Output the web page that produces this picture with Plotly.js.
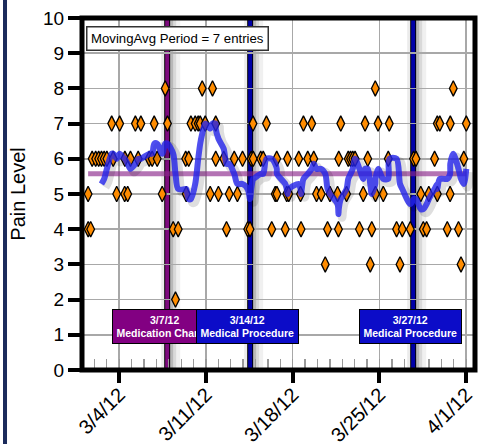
<!DOCTYPE html>
<html><head><meta charset="utf-8">
<script src="https://cdn.plot.ly/plotly-3.0.1.min.js"></script>
<style>html,body{margin:0;padding:0;background:#fff}#chart{width:480px;height:444px}</style>
</head><body><div id="chart"></div>
<script>
// ---- data ----
const entryTimes = [
'2012-03-01 11:50','2012-03-01 12:00','2012-03-01 16:48','2012-03-01 19:42','2012-03-02 02:28','2012-03-02 08:17',
'2012-03-02 13:42','2012-03-02 18:57','2012-03-03 00:10','2012-03-03 09:29','2012-03-03 12:23','2012-03-03 19:09',
'2012-03-04 00:58','2012-03-04 10:39','2012-03-04 11:02','2012-03-04 16:28','2012-03-04 21:53','2012-03-05 07:22',
'2012-03-05 12:48','2012-03-05 18:02','2012-03-06 10:06','2012-03-06 15:55','2012-03-06 19:48','2012-03-07 01:36',
'2012-03-07 11:18','2012-03-07 17:07','2012-03-07 21:33','2012-03-08 08:36','2012-03-08 13:03','2012-03-08 18:17',
'2012-03-09 08:48','2012-03-09 09:47','2012-03-09 14:37','2012-03-09 18:53','2012-03-10 03:13','2012-03-10 09:02',
'2012-03-10 12:53','2012-03-10 16:47','2012-03-10 22:35','2012-03-11 08:16','2012-03-11 12:43','2012-03-11 18:56',
'2012-03-11 19:00','2012-03-12 00:09','2012-03-12 10:25','2012-03-12 15:50','2012-03-12 21:04','2012-03-13 06:46',
'2012-03-13 12:58','2012-03-13 22:51','2012-03-14 08:54','2012-03-14 13:22','2012-03-14 15:42','2012-03-14 19:11',
'2012-03-14 19:34','2012-03-15 10:05','2012-03-15 14:56','2012-03-15 21:07','2012-03-16 07:24','2012-03-16 14:11',
'2012-03-16 17:05','2012-03-16 17:28','2012-03-17 09:33','2012-03-17 12:27','2012-03-17 14:01','2012-03-17 16:20',
'2012-03-18 11:41','2012-03-18 15:11','2012-03-18 16:09','2012-03-18 20:48','2012-03-19 05:08','2012-03-19 12:53',
'2012-03-19 16:45','2012-03-19 22:10','2012-03-20 07:16','2012-03-20 15:01','2012-03-20 19:29','2012-03-21 00:08',
'2012-03-21 14:51','2012-03-21 16:35','2012-03-21 17:11','2012-03-21 21:03','2012-03-22 08:18','2012-03-22 11:35',
'2012-03-22 16:02','2012-03-22 20:18','2012-03-23 00:45','2012-03-23 09:17','2012-03-23 16:38','2012-03-23 20:08',
'2012-03-24 01:21','2012-03-24 06:12','2012-03-24 09:06','2012-03-24 15:53','2012-03-24 16:16','2012-03-24 21:18',
'2012-03-25 07:22','2012-03-25 17:04','2012-03-25 19:00','2012-03-26 09:09','2012-03-26 15:43','2012-03-26 20:11',
'2012-03-27 11:41','2012-03-27 18:04','2012-03-27 22:44','2012-03-28 08:01','2012-03-28 12:52','2012-03-28 19:16',
'2012-03-28 23:31','2012-03-29 10:45','2012-03-29 15:59','2012-03-29 16:05','2012-03-29 20:50','2012-03-30 11:21',
'2012-03-30 16:46','2012-03-30 17:10','2012-03-30 22:57','2012-03-31 09:03','2012-03-31 13:54','2012-03-31 19:19',
'2012-04-01 00:10'];
const painLevels = [
5,4,4,6,6,6, 6,6,6,7,6,5, 7,5,6,5,6,7, 6,7,6,6,7,6, 5,8,7,4,2,4, 6,5,6,7,7,7,
7,8,7,5,8,7, 6,5,6,4,5,6, 5,6,4,4,6,7, 6,6,6,7,4,5, 6,5,4,5,6,5, 6,5,4,7,6,7,
6,5,5,3,4,5, 5,4,6,7,5,6, 6,6,6,4,5,7, 6,3,4,8,5,7, 5,6,7,4,3,4, 4,6,6,5,4,4,
5,6,7,5,7,4, 5,7,8,4,3,6, 7];
const movingAvgPeriod = 7;
const eventDates  = ['2012-03-07 21:00','2012-03-14 13:40','2012-03-27 17:20'];
const eventDays   = ['3/7/12','3/14/12','3/27/12'];
const eventNames  = ['Medication Change','Medical Procedure','Medical Procedure'];
const yTickVals = [0,1,2,3,4,5,6,7,8,9,10];
const xTickVals = ['2012-03-04','2012-03-11','2012-03-18','2012-03-25','2012-04-01'];
const xTickText = ['3/4/12','3/11/12','3/18/12','3/25/12','4/1/12'];

// ---- styles ----
const eventLineColors = ['#7d0a7d','#0000a8','#0000a8'];
const eventBoxColors  = ['#820082','#0c0cc8','#0c0cc8'];
const FONT = '"Liberation Sans", Arial, sans-serif';

function toMs(s){const p=s.split(' ');const d=p[0].split('-').map(Number);const t=(p[1]||'00:00').split(':').map(Number);return Date.UTC(d[0],d[1]-1,d[2],t[0],t[1]);}
function toStr(ms){return new Date(ms).toISOString().slice(0,16).replace('T',' ');}

// moving average over entries (trailing)
const maX=[], maY=[];
for(let i=movingAvgPeriod-1;i<painLevels.length;i++){
  let s=0; for(let k=i-movingAvgPeriod+1;k<=i;k++) s+=painLevels[k];
  maX.push(entryTimes[i]); maY.push(s/movingAvgPeriod);
}
const mean = painLevels.reduce((a,b)=>a+b,0)/painLevels.length;
const shadowX = maX.map(t=>toStr(toMs(t)+7*3600*1000));
const shadowY = maY.map(v=>v-0.09);

const traces = [
  {x:entryTimes, y:painLevels, type:'scatter', mode:'markers',
   marker:{symbol:'diamond-tall', size:11, color:'#ff8c00', line:{color:'#000', width:1.3}}, hoverinfo:'x+y'},
  {x:[entryTimes[0], entryTimes[entryTimes.length-1]], y:[mean, mean], type:'scatter', mode:'lines',
   line:{color:'rgba(140,40,140,0.65)', width:5}},
  {x:shadowX, y:shadowY, type:'scatter', mode:'lines',
   line:{color:'rgba(0,0,0,0.13)', width:9, shape:'spline', smoothing:0.8}, hoverinfo:'skip'},
  {x:maX, y:maY, type:'scatter', mode:'lines',
   line:{color:'rgba(35,35,235,0.8)', width:6, shape:'spline', smoothing:0.8}}
];

const shapes = [];
eventDates.forEach((d,i)=>{
  const base = {type:'rect', xref:'x', yref:'paper', xsizemode:'pixel', xanchor:d, y0:0, y1:1, line:{width:0}, layer:'between'};
  shapes.push(Object.assign({}, base, {x0:-6, x1:-3, fillcolor:'rgba(0,0,0,0.08)'}));
  shapes.push(Object.assign({}, base, {x0:3, x1:6, fillcolor:'rgba(0,0,0,0.28)'}));
  shapes.push(Object.assign({}, base, {x0:6, x1:9, fillcolor:'rgba(0,0,0,0.15)'}));
  shapes.push(Object.assign({}, base, {x0:9, x1:13, fillcolor:'rgba(0,0,0,0.06)'}));
  shapes.push(Object.assign({}, base, {x0:-3, x1:3, fillcolor:'#000'}));
  shapes.push(Object.assign({}, base, {x0:-2, x1:2, fillcolor:eventLineColors[i]}));
});
// plot frame
shapes.push({type:'rect', xref:'paper', yref:'paper', x0:0, x1:1, y0:0, y1:1, line:{color:'#000', width:5}, fillcolor:'rgba(0,0,0,0)', layer:'above'});
// left page stripe
shapes.push({type:'rect', xref:'paper', yref:'paper', x0:-0.2010, x1:-0.1908, y0:-0.3, y1:1.2, line:{width:0}, fillcolor:'#1b2b5b', layer:'above'});

const annotations = [
  {xref:'paper', yref:'paper', x:0.0102, y:0.9773, xanchor:'left', yanchor:'top', showarrow:false, align:'left',
   text:'MovingAvg Period = ' + movingAvgPeriod + ' entries', font:{family:FONT, size:13.2, color:'#000'},
   bgcolor:'#fff', bordercolor:'#333', borderwidth:1.5, borderpad:3.5}
];
eventDates.forEach((d,i)=>{
  annotations.push({xref:'x', yref:'paper', x:d, y:0.1236, xanchor:'center', yanchor:'middle', xshift:-2.5,
    showarrow:false, align:'center', text:'<b>'+eventDays[i]+'<br>'+eventNames[i]+'</b>',
    font:{family:FONT, size:10.5, color:'#fff'}, bgcolor:eventBoxColors[i], bordercolor:'#000', borderwidth:1, borderpad:3.5});
});

const layout = {
  width:480, height:444, margin:{l:82, r:5, t:18, b:74}, showlegend:false,
  paper_bgcolor:'#fff', plot_bgcolor:'#fff', font:{family:FONT, color:'#000'},
  xaxis:{type:'date', range:['2012-03-01 00:00','2012-04-01 17:00'], tickmode:'array', tickvals:xTickVals, ticktext:xTickText,
    tickangle:-45, ticks:'outside', ticklen:12, tickwidth:4, tickcolor:'#000', tickfont:{size:20, color:'#000'},
    ticklabelstandoff:-8,
    showline:false, showgrid:true, gridcolor:'#a8a8a8', gridwidth:1.5, zeroline:false,
    minor:{tick0:'2012-03-01', dtick:86400000, ticks:'inside', ticklen:11, tickwidth:1.3, tickcolor:'#999', showgrid:false}},
  yaxis:{range:[0,10], tickmode:'array', tickvals:yTickVals, ticks:'outside', ticklen:13, tickwidth:4, tickcolor:'#000',
    tickfont:{size:19, color:'#000'}, showline:false, showgrid:true, gridcolor:'#a8a8a8', gridwidth:1.5, zeroline:false,
    title:{text:'Pain Level', font:{size:20, color:'#000'}, standoff:12}},
  shapes:shapes, annotations:annotations
};
Plotly.newPlot('chart', traces, layout, {displayModeBar:false, staticPlot:true});
</script></body></html>
